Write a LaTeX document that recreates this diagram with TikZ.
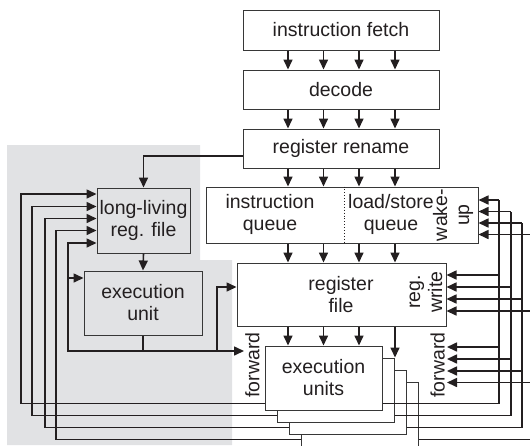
\documentclass[tikz,border=0pt]{standalone}
\usepackage{fontspec}
\setmainfont{Liberation Sans}
\usetikzlibrary{arrows.meta,calc}
\definecolor{ink}{RGB}{35,31,32}
\definecolor{bgray}{RGB}{225,226,228}
\definecolor{edge}{RGB}{55,55,55}
\begin{document}
\begin{tikzpicture}[x=1pt,y=-1pt,
  font=\fontsize{19.5}{22}\selectfont,
  box/.style={draw=edge, line width=1pt, fill=white, inner sep=0pt, align=center, text=ink},
  txt/.style={inner sep=0pt, align=center, text=ink},
  conn/.style={draw=ink, line width=1.6pt},
  arr/.style={conn, -{Triangle[length=10pt,width=9pt]}},
  lbl/.style={rotate=90, inner sep=1pt, align=center, text=ink}]
\useasboundingbox (0,0) rectangle (530,445);
\clip (0,0) rectangle (530,445);
% grey region
\fill[bgray] (7,145) -- (200,145) -- (200,260) -- (232,260) -- (232,445) -- (7,445) -- cycle;

% main pipeline boxes
\node[box, minimum width=196pt, minimum height=40pt] (fetch) at (341,30) {instruction fetch};
\node[box, minimum width=196pt, minimum height=39pt] (decode) at (341,89.5) {decode};
\node[box, minimum width=196pt, minimum height=39pt] (rename) at (341,148.5) {register rename};
\node[box, minimum width=272pt, minimum height=56pt] (queue) at (342,215) {};
\node[txt] (iq) at (270,214) {instruction\\queue};
\node[txt] (lsq) at (391,214) {load/store\\queue};
\draw[ink, line width=0.9pt, dotted] (queue.north -| 344,0) -- (queue.south -| 344,0);
\node[lbl] (wake) at (453,215) {wake-\\up};
\node[box, minimum width=209pt, minimum height=63pt] (rf) at (341.5,294.5) {};
\node[txt] (rft) at (341,295) {register\\file};
\node[lbl] (rw) at (426,292) {reg.\\write};

% execution units stack
\node[box, minimum width=117pt, minimum height=64pt] (eu4) at (359.5,414) {};
\node[box, minimum width=117pt, minimum height=64pt] (eu3) at (347.5,402) {};
\node[box, minimum width=117pt, minimum height=64pt] (eu2) at (335.5,390) {};
\node[box, minimum width=117pt, minimum height=64pt] (eu1) at (323.5,378) {execution\\units};
\node[lbl, anchor=north] (fwdL) at (244,365) {forward};
\node[lbl, anchor=south, inner sep=2pt] (fwdR) at (447,365) {forward};

% left grey boxes
\node[box, fill=bgray, minimum width=93pt, minimum height=65pt] (llrf) at (143.5,220.5) {long-living\\reg. file};
\node[box, fill=bgray, minimum width=118pt, minimum height=64pt] (exu) at (143,303) {execution\\unit};

% vertical pipeline arrows
\foreach \cx in {288,323.5,359,395} {
  \draw[arr] (fetch.south -| \cx,0) -- (decode.north -| \cx,0);
  \draw[arr] (decode.south -| \cx,0) -- (rename.north -| \cx,0);
  \draw[arr] (rename.south -| \cx,0) -- (queue.north -| \cx,0);
  \draw[arr] (queue.south -| \cx,0) -- (rf.north -| \cx,0);
}
\foreach \cx in {288,323.5,359} {
  \draw[arr] (rf.south -| \cx,0) -- (eu1.north -| \cx,0);
}
\draw[arr] (rf.south -| 395,0) -- (eu2.north -| 395,0);

% rename -> long-living register file
\draw[arr] ([yshift=-7.5pt]rename.west) -| (llrf.north);
\draw[arr] (llrf.south) -- (exu.north);

% right-hand feedback buses
\foreach \i/\rx/\wy/\ry/\fy in {1/499/200/275/347, 2/511/211.5/287/359, 3/522/223/299/371, 4/534/234.5/311/382.5} {
  \coordinate (r\i) at (\rx,\wy);
  \draw[conn] ([yshift=7pt]eu\i.south east) -| (r\i);
  \draw[arr] (r\i) -- (queue.east |- r\i);
  \draw[arr] (\rx,\ry) -- (rf.east |- 0,\ry);
  \draw[arr] (\rx,\fy) -- (fwdR.south |- 0,\fy);
}

% left-hand feedback buses
\foreach \i/\lx/\ly in {1/21/194, 2/32/206.5, 3/45/218.5, 4/56/230.5} {
  \coordinate (l\i) at (\lx,\ly);
  \draw[arr] ([yshift=7pt]eu\i.south west) -| (l\i) -- (llrf.west |- l\i);
}

% local execution unit bus
\coordinate (bus) at (exu.south |- 0,351);
\coordinate (l5) at (68,243);
\draw[conn] (exu.south) -- (bus);
\draw[arr] (bus) -- (fwdL.north |- bus);
\draw[arr] (bus) -| (l5) -- (llrf.west |- l5);
\draw[arr] (68,278) -- (exu.west |- 0,278);
\draw[arr] (217,351) |- (rf.west |- 0,287);
\end{tikzpicture}
\end{document}
